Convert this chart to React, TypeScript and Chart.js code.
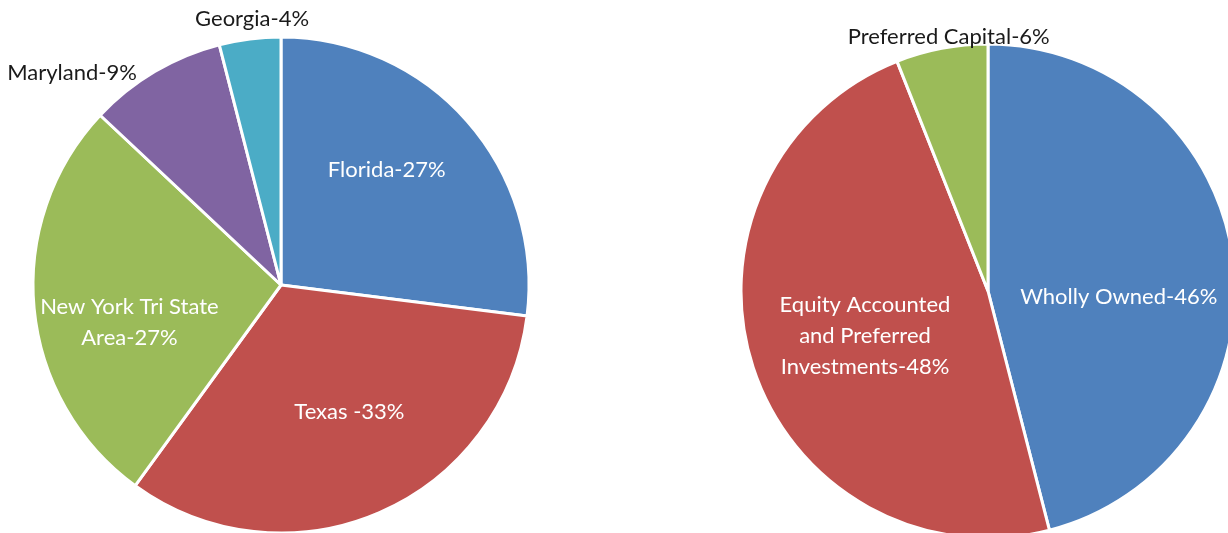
import React, { useEffect, useRef } from "react";
import { Chart, registerables } from "chart.js";

Chart.register(...registerables);

// ---- Data ----
const regionNames = ["Florida", "Texas", "New York Tri State Area", "Maryland", "Georgia"];
const regionValues = [27, 33, 27, 9, 4];
const regionLabelLines = [["Florida-27%"], ["Texas -33%"], ["New York Tri State", "Area-27%"], ["Maryland-9%"], ["Georgia-4%"]];

const portfolioNames = ["Wholly Owned", "Equity Accounted and Preferred Investments", "Preferred Capital"];
const portfolioValues = [46, 48, 6];
const portfolioLabelLines = [["Wholly Owned-46%"], ["Equity Accounted", "and Preferred", "Investments-48%"], ["Preferred Capital-6%"]];

// ---- Styles ----
const regionColors = ["#4F81BD", "#C0504D", "#9BBB59", "#8064A2", "#4BACC6"];
const portfolioColors = ["#4F81BD", "#C0504D", "#9BBB59"];

const FONT = "Lato, 'Open Sans', sans-serif";

type LabelPlacement = { factor: number[]; shiftDeg: number[]; inside: boolean[] };

const regionPlacement: LabelPlacement = {
  factor: [0.63, 0.58, 0.63, 1.2, 1.08],
  shiftDeg: [-6, -5, -8.6, -14, 1],
  inside: [true, true, true, false, false],
};
const portfolioPlacement: LabelPlacement = {
  factor: [0.53, 0.53, 1.04],
  shiftDeg: [10, -2, 2],
  inside: [true, true, false],
};

function makeLabelPlugin(lines: string[][], place: LabelPlacement) {
  return {
    id: "sliceLabels",
    afterDatasetsDraw(chart: any) {
      const ctx = chart.ctx;
      const meta = chart.getDatasetMeta(0);
      ctx.save();
      ctx.font = `22px ${FONT}`;
      ctx.textAlign = "center";
      ctx.textBaseline = "middle";
      const lh = 31;
      meta.data.forEach((arc: any, i: number) => {
        const p = arc.getProps(["x", "y", "startAngle", "endAngle", "outerRadius"], true);
        const mid = (p.startAngle + p.endAngle) / 2 + (place.shiftDeg[i] * Math.PI) / 180;
        const r = p.outerRadius * place.factor[i];
        const cx = p.x + Math.cos(mid) * r;
        const cy = p.y + Math.sin(mid) * r;
        ctx.fillStyle = place.inside[i] ? "#ffffff" : "#1a1a1a";
        const ls = lines[i];
        const top = cy - ((ls.length - 1) * lh) / 2;
        ls.forEach((t, j) => ctx.fillText(t, cx, top + j * lh));
      });
      ctx.restore();
    },
  };
}

function PieCanvas(props: {
  names: string[];
  values: number[];
  colors: string[];
  lines: string[][];
  place: LabelPlacement;
  radius: number;
  padding: { left: number; right: number; top: number; bottom: number };
  style: React.CSSProperties;
}) {
  const ref = useRef<HTMLCanvasElement>(null);
  useEffect(() => {
    if (!ref.current) return;
    const chart = new Chart(ref.current, {
      type: "pie",
      data: {
        labels: props.names,
        datasets: [
          {
            data: props.values,
            backgroundColor: props.colors,
            borderColor: "#ffffff",
            borderWidth: 3,
          },
        ],
      },
      options: {
        animation: false,
        responsive: false,
        maintainAspectRatio: false,
        radius: props.radius,
        layout: { padding: props.padding },
        plugins: { legend: { display: false }, tooltip: { enabled: false } },
      } as any,
      plugins: [makeLabelPlugin(props.lines, props.place)],
    });
    return () => chart.destroy();
  }, []);
  return <canvas ref={ref} width={614} height={533} style={props.style} />;
}

export default function App() {
  return (
    <div style={{ position: "fixed", left: 0, top: 0, width: 1228, height: 533, background: "#fff", overflow: "hidden" }}>
      <PieCanvas
        names={regionNames}
        values={regionValues}
        colors={regionColors}
        lines={regionLabelLines}
        place={regionPlacement}
        radius={248}
        padding={{ left: 0, right: 52, top: 37, bottom: 0 }}
        style={{ position: "absolute", left: 0, top: 0, width: 614, height: 533 }}
      />
      <PieCanvas
        names={portfolioNames}
        values={portfolioValues}
        colors={portfolioColors}
        lines={portfolioLabelLines}
        place={portfolioPlacement}
        radius={247}
        padding={{ left: 134, right: 0, top: 49, bottom: 0 }}
        style={{ position: "absolute", left: 614, top: 0, width: 614, height: 533 }}
      />
    </div>
  );
}
